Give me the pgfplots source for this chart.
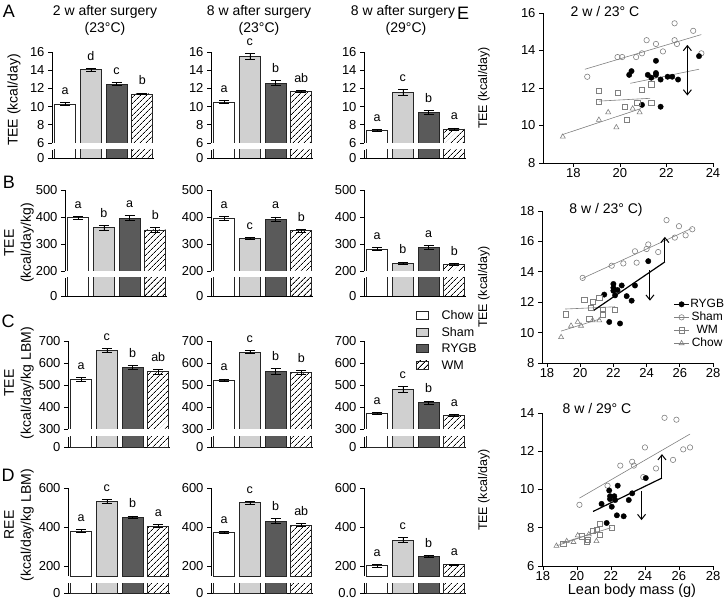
\documentclass[border=0pt]{standalone}
\usepackage{fontspec}
\setmainfont{Liberation Sans}
\usepackage{pgfplots}
\pgfplotsset{compat=1.18}
\usetikzlibrary{patterns.meta,arrows.meta}
\definecolor{shamc}{HTML}{D0D0D0}
\definecolor{rygbc}{HTML}{5A5A5A}
\definecolor{ptg}{HTML}{808080}
\newcommand{\fT}{\fontsize{14}{17}\selectfont}
\newcommand{\fL}{\fontsize{12.5}{13}\selectfont}
\newcommand{\fP}{\fontsize{18}{18}\selectfont}
\pgfplotsset{
  every axis/.append style={scale only axis, /pgf/number format/assume math mode=true,
    axis line style={line width=0.7pt,-}, every tick/.style={black,line width=0.7pt},
    major tick length=4pt, tick align=outside,
    tick label style={font=\fontsize{13}{13}\selectfont}},
  barax/.style={width=101.8pt, xmin=0.49, xmax=4.45, axis y line*=left, axis x line=none,
    xtick=\empty, anchor=south west, clip mode=individual},
  lowax/.style={width=101.8pt, xmin=0.49, xmax=4.45, axis lines*=left, xtick=\empty,
    anchor=south west, ymin=0, ymax=1, ytick={0}},
  chow/.style={ybar, bar width=21pt, bar shift=0pt, fill=white, draw=black!85, line width=0.6pt},
  sham/.style={ybar, bar width=21pt, bar shift=0pt, fill=shamc, draw=black!85, line width=0.6pt},
  rygb/.style={ybar, bar width=21pt, bar shift=0pt, fill=rygbc, draw=black!85, line width=0.6pt},
  wm/.style={ybar, bar width=21pt, bar shift=0pt, pattern={Lines[angle=45,distance=4pt,line width=0.8pt]}, pattern color=black, draw=black!85, line width=0.6pt},
  eb/.style={error bars/.cd, y dir=both, y explicit, error bar style={line width=0.6pt,black},
    error mark options={rotate=90, mark size=5pt, line width=0.6pt, black}},
  scax/.style={anchor=south west, axis lines*=left, clip=false, xticklabel style={yshift=2.5pt}},
  sham pt/.style={only marks, mark=o, ptg, mark size=2.7pt, mark options={line width=0.6pt}},
  rygb pt/.style={only marks, mark=*, black, mark size=2.7pt},
  wm pt/.style={only marks, mark=square, ptg, mark size=2.6pt, mark options={line width=0.6pt}},
  chow pt/.style={only marks, mark=triangle, ptg, mark size=2.9pt, mark options={line width=0.6pt}},
  reg/.style={ptg, line width=0.6pt, forget plot, no marks},
  regb/.style={black, line width=1.2pt, forget plot, no marks},
  arr/.style={black, line width=1pt, forget plot, no marks, -{Straight Barb[length=5pt,width=8pt]}},
}
\newcommand{\bars}[8]{%
  \addplot[chow,eb] coordinates {(1,#1) +- (0,#2)};
  \addplot[sham,eb] coordinates {(2,#3) +- (0,#4)};
  \addplot[rygb,eb] coordinates {(3,#5) +- (0,#6)};
  \addplot[wm,eb] coordinates {(4,#7) +- (0,#8)};
  \gdef\tA{#1+#2}\gdef\tB{#3+#4}\gdef\tC{#5+#6}\gdef\tD{#7+#8}}
\newcommand{\lets}[4]{%
  \node[anchor=base,font=\fL,yshift=8pt] at (axis cs:1,\tA) {#1};
  \node[anchor=base,font=\fL,yshift=8pt] at (axis cs:2,\tB) {#2};
  \node[anchor=base,font=\fL,yshift=8pt] at (axis cs:3,\tC) {#3};
  \node[anchor=base,font=\fL,yshift=8pt] at (axis cs:4,\tD) {#4};}
\newcommand{\lowbars}{%
  \addplot[chow] coordinates {(1,5)};
  \addplot[sham] coordinates {(2,5)};
  \addplot[rygb] coordinates {(3,5)};
  \addplot[wm] coordinates {(4,5)};}
\begin{document}
\begin{tikzpicture}[x=1pt,y=1pt]
\path[use as bounding box] (0,0) rectangle (728,600);
% ---------- titles and labels
\node[font=\fT] at (105,588) {2 w after surgery};
\node[font=\fT] at (105,571) {(23°C)};
\node[font=\fT] at (259,588) {8 w after surgery};
\node[font=\fT] at (259,571) {(23°C)};
\node[font=\fT] at (403,588) {8 w after surgery};
\node[font=\fT] at (406,571) {(29°C)};
\node[font=\fP] at (9,589) {A};
\node[font=\fP] at (9,418) {B};
\node[font=\fP] at (8,279) {C};
\node[font=\fP] at (8,125) {D};
\node[font=\fP] at (463,587) {E};
\node[font=\fT,rotate=90] at (14,500) {TEE (kcal/day)};
\node[font=\fT,rotate=90,align=center] at (19,357) {TEE\\(kcal/day/kg)};
\node[font=\fT,rotate=90,align=center] at (19,217) {TEE\\(kcal/day/kg LBM)};
\node[font=\fT,rotate=90,align=center] at (19,75) {REE\\(kcal/day/kg LBM)};
% ---------- Row A
\begin{axis}[barax, at={(52pt,457pt)}, height=91pt, ymin=6, ymax=16, ytick={6,8,10,12,14,16}]
\bars{10.3}{0.2}{14.05}{0.15}{12.5}{0.15}{11.4}{0.1}
\lets{a}{d}{c}{b}
\end{axis}
\begin{axis}[lowax, at={(52pt,442pt)}, height=8pt]\lowbars\end{axis}
\begin{axis}[barax, at={(211pt,457pt)}, height=91pt, ymin=6, ymax=16, ytick={6,8,10,12,14,16}]
\bars{10.5}{0.15}{15.55}{0.3}{12.6}{0.25}{11.65}{0.1}
\lets{a}{c}{b}{ab}
\end{axis}
\begin{axis}[lowax, at={(211pt,442pt)}, height=8pt]\lowbars\end{axis}
\begin{axis}[barax, at={(364pt,457pt)}, height=91pt, ymin=6, ymax=16, ytick={6,8,10,12,14,16}]
\bars{7.4}{0.08}{11.55}{0.35}{9.4}{0.2}{7.55}{0.1}
\lets{a}{c}{b}{a}
\end{axis}
\begin{axis}[lowax, at={(364pt,442pt)}, height=8pt]\lowbars\end{axis}
% ---------- Row B
\begin{axis}[barax, at={(65pt,329pt)}, height=81pt, ymin=200, ymax=500, ytick={200,300,400,500}]
\bars{398}{5}{360}{8}{397}{8}{352}{8}
\lets{a}{b}{a}{b}
\end{axis}
\begin{axis}[lowax, at={(65pt,304pt)}, height=18pt]\lowbars\end{axis}
\begin{axis}[barax, at={(211pt,329pt)}, height=81pt, ymin=200, ymax=500, ytick={200,300,400,500}]
\bars{395}{7}{320}{4}{392}{8}{350}{5}
\lets{a}{c}{a}{b}
\end{axis}
\begin{axis}[lowax, at={(211pt,304pt)}, height=18pt]\lowbars\end{axis}
\begin{axis}[barax, at={(364pt,329pt)}, height=81pt, ymin=200, ymax=500, ytick={200,300,400,500}]
\bars{282}{4}{229}{5}{288}{7}{224}{4}
\lets{a}{b}{a}{b}
\end{axis}
\begin{axis}[lowax, at={(364pt,304pt)}, height=18pt]\lowbars\end{axis}
% ---------- Row C
\begin{axis}[barax, at={(68pt,171pt)}, height=88pt, ymin=300, ymax=700, ytick={300,400,500,600,700}]
\bars{526}{8}{658}{8}{580}{10}{560}{10}
\lets{a}{c}{b}{ab}
\end{axis}
\begin{axis}[lowax, at={(68pt,153pt)}, height=10pt]\lowbars\end{axis}
\begin{axis}[barax, at={(211pt,171pt)}, height=88pt, ymin=300, ymax=700, ytick={300,400,500,600,700}]
\bars{522}{6}{650}{6}{562}{12}{558}{10}
\lets{a}{c}{b}{b}
\end{axis}
\begin{axis}[lowax, at={(211pt,153pt)}, height=10pt]\lowbars\end{axis}
\begin{axis}[barax, at={(364pt,171pt)}, height=88pt, ymin=300, ymax=700, ytick={300,400,500,600,700}]
\bars{372}{4}{480}{12}{420}{8}{362}{4}
\lets{a}{c}{b}{a}
\end{axis}
\begin{axis}[lowax, at={(364pt,153pt)}, height=10pt]\lowbars\end{axis}
% ---------- Row D
\begin{axis}[barax, at={(68pt,24pt)}, height=88pt, ymin=150, ymax=600, ytick={200,400,600}]
\bars{380}{8}{530}{10}{450}{7}{405}{7}
\lets{a}{c}{b}{a}
\end{axis}
\begin{axis}[lowax, at={(68pt,7pt)}, height=10pt]\lowbars\end{axis}
\begin{axis}[barax, at={(211pt,24pt)}, height=88pt, ymin=150, ymax=600, ytick={200,400,600}]
\bars{372}{6}{525}{6}{432}{12}{410}{7}
\lets{a}{c}{b}{ab}
\end{axis}
\begin{axis}[lowax, at={(211pt,7pt)}, height=10pt]\lowbars\end{axis}
\begin{axis}[barax, at={(364pt,24pt)}, height=88pt, ymin=150, ymax=600, ytick={200,400,600}]
\bars{203}{6}{335}{12}{250}{5}{208}{4}
\lets{a}{c}{b}{a}
\end{axis}
\begin{axis}[lowax, at={(364pt,7pt)}, height=10pt, yticklabels={0.0}]\lowbars\end{axis}
% ---------- bar legend
\draw[black!85,line width=0.6pt,fill=white] (416,281) rectangle (428,289);
\draw[black!85,line width=0.6pt,fill=shamc] (416,264) rectangle (428,272);
\draw[black!85,line width=0.6pt,fill=rygbc] (416,248) rectangle (428,256);
\draw[black!85,line width=0.6pt,pattern={Lines[angle=45,distance=4pt,line width=0.8pt]}] (416,231) rectangle (428,239);
\node[font=\fL,anchor=west] at (438,285) {Chow};
\node[font=\fL,anchor=west] at (438,268) {Sham};
\node[font=\fL,anchor=west] at (438,252) {RYGB};
\node[font=\fL,anchor=west] at (438,235) {WM};
% ---------- E labels
\node[font=\fontsize{12.5}{13}\selectfont,rotate=90] at (484,512) {TEE (kcal/day)};
\node[font=\fontsize{12.5}{13}\selectfont,rotate=90] at (484,313) {TEE (kcal/day)};
\node[font=\fontsize{12.5}{13}\selectfont,rotate=90] at (484,110) {TEE (kcal/day)};
\node[font=\fT] at (605,588) {2 w / 23° C};
\node[font=\fT] at (606,390) {8 w / 23° C)};
\node[font=\fT] at (597,192) {8 w / 29° C};
\node[font=\fontsize{14.5}{15}\selectfont] at (632,9) {Lean body mass (g)};
% ---------- E1
\begin{axis}[scax, at={(543pt,437pt)}, width=170pt, height=150pt, xmin=16.7, xmax=24, ymin=8, ymax=16,
  xtick={18,20,22,24}, ytick={8,10,12,14,16}]
\addplot[reg] coordinates {(18.5,13.0) (23.5,14.85)};
\addplot[reg] coordinates {(20.45,12.25) (23.4,13.0)};
\addplot[reg] coordinates {(19.1,11.3) (21.3,11.45)};
\addplot[reg] coordinates {(17.5,9.5) (20.9,10.9)};
\addplot[sham pt] coordinates {(18.6,12.6) (19.9,13.65) (20.1,13.65) (20.7,13.65) (20.95,13.85) (21.15,14.55) (21.55,14.35) (21.85,13.95) (22.35,15.45) (22.35,14.55) (22.45,14.35) (23.15,15.05) (23.5,13.85)};
\addplot[rygb pt] coordinates {(20.4,12.7) (20.5,12.9) (21.2,12.7) (21.35,12.55) (21.55,13.45) (21.55,12.8) (21.55,12.7) (21.75,12.45) (22.05,12.6) (22.25,12.6) (22.5,12.45) (20.95,11.1) (21.75,11.0) (23.4,13.7)};
\addplot[wm pt] coordinates {(19.1,11.85) (19.1,11.25) (19.9,11.75) (20.2,11.0) (20.3,10.3) (20.75,11.2) (20.95,11.9) (21.35,12.2) (21.35,11.2)};
\addplot[chow pt] coordinates {(17.55,9.4) (19.1,10.3) (19.5,10.7) (19.85,9.9) (20.55,10.9) (20.85,10.7)};
\addplot[arr, {Straight Barb[length=5pt,width=8pt]}-{Straight Barb[length=5pt,width=8pt]}] coordinates {(22.9,14.3) (22.9,11.6)};
\end{axis}
% ---------- E2
\begin{axis}[scax, at={(542pt,237pt)}, width=171pt, height=152pt, xmin=17.7, xmax=28, ymin=8, ymax=18,
  xtick={18,20,...,28}, ytick={8,10,...,18},
  legend style={at={(0.77,0.43)}, anchor=north west, draw=none, fill=none, font=\fontsize{12}{12}\selectfont,
    inner sep=0pt, row sep=0pt, nodes={inner sep=1pt, text height=8.5pt, text depth=2.5pt}},
  legend image code/.code={\draw[#1,sharp plot,mark repeat=2,mark phase=2] plot coordinates {(0pt,0pt) (7.5pt,0pt) (15pt,0pt)};}]
\addplot[rygb pt] coordinates {(21.45,12.5) (21.75,10.7) (22.0,13.2) (22.0,12.95) (22.0,12.75) (22.1,12.45) (22.25,12.8) (22.5,13.1) (22.8,12.4) (22.4,10.6) (23.1,12.1) (23.3,13.1) (24.1,14.7)};
\addplot[sham pt] coordinates {(20.15,13.6) (21.9,14.4) (22.6,14.55) (23.3,15.35) (23.4,14.6) (24.0,15.5) (24.1,15.8) (24.7,15.3) (25.2,17.4) (25.7,16.25) (25.95,17.0) (26.35,16.4) (26.75,16.8)};
\addplot[wm pt] coordinates {(19.15,11.2) (20.25,12.15) (20.65,11.65) (20.75,12.0) (21.15,12.3) (21.35,11.5) (21.35,11.2) (22.1,11.5) (20.55,10.9)};
\addplot[chow pt] coordinates {(18.85,9.7) (19.45,10.45) (19.85,10.7) (20.05,10.45) (20.75,10.8) (21.15,10.8)};
\legend{RYGB,Sham,WM,Chow}
\addplot[reg] coordinates {(20.1,13.55) (26.7,16.85)};
\addplot[reg] coordinates {(19.1,11.55) (22.1,11.7)};
\addplot[reg] coordinates {(18.85,10.1) (21.2,10.9)};
\addplot[regb] coordinates {(20.8,11.45) (25.1,14.65)};
\addplot[arr] coordinates {(25.1,14.65) (25.1,16.3)};
\addplot[arr] coordinates {(24.2,14.1) (24.2,12.1)};
\end{axis}
% ---------- E3
\begin{axis}[scax, at={(542pt,34pt)}, width=171pt, height=153pt, xmin=17.95, xmax=28, ymin=6, ymax=14,
  xtick={18,20,...,28}, ytick={6,8,...,14}]
\addplot[reg] coordinates {(20.15,9.55) (26.65,12.9)};
\addplot[reg] coordinates {(19.1,7.2) (22.0,8.0)};
\addplot[reg] coordinates {(18.8,7.05) (21.2,7.8)};
\addplot[sham pt] coordinates {(20.15,9.2) (21.8,10.2) (22.55,11.25) (23.25,11.45) (23.35,11.25) (24.0,12.2) (23.9,10.65) (24.65,11.1) (25.15,13.75) (25.65,11.55) (25.85,13.65) (26.25,12.1) (26.65,12.2)};
\addplot[rygb pt] coordinates {(21.45,9.25) (21.75,8.25) (21.9,9.95) (21.95,9.65) (21.95,9.5) (22.05,9.1) (22.2,9.65) (22.25,9.45) (22.4,10.2) (22.35,8.65) (22.75,8.6) (23.05,9.45) (23.25,9.8) (24.05,10.6)};
\addplot[wm pt] coordinates {(19.2,7.15) (20.3,7.55) (20.65,7.35) (20.95,7.85) (21.15,7.9) (21.35,8.2) (21.35,7.65) (22.05,8.0) (20.6,7.25)};
\addplot[chow pt] coordinates {(18.8,7.05) (19.4,7.3) (19.8,7.25) (20.05,7.6) (20.7,7.65) (21.15,7.3)};
\addplot[regb] coordinates {(20.95,8.85) (25.0,10.6)};
\addplot[arr] coordinates {(25.0,10.6) (25.0,11.85)};
\addplot[arr] coordinates {(23.8,9.9) (23.8,8.4)};
\end{axis}
\end{tikzpicture}
\end{document}
